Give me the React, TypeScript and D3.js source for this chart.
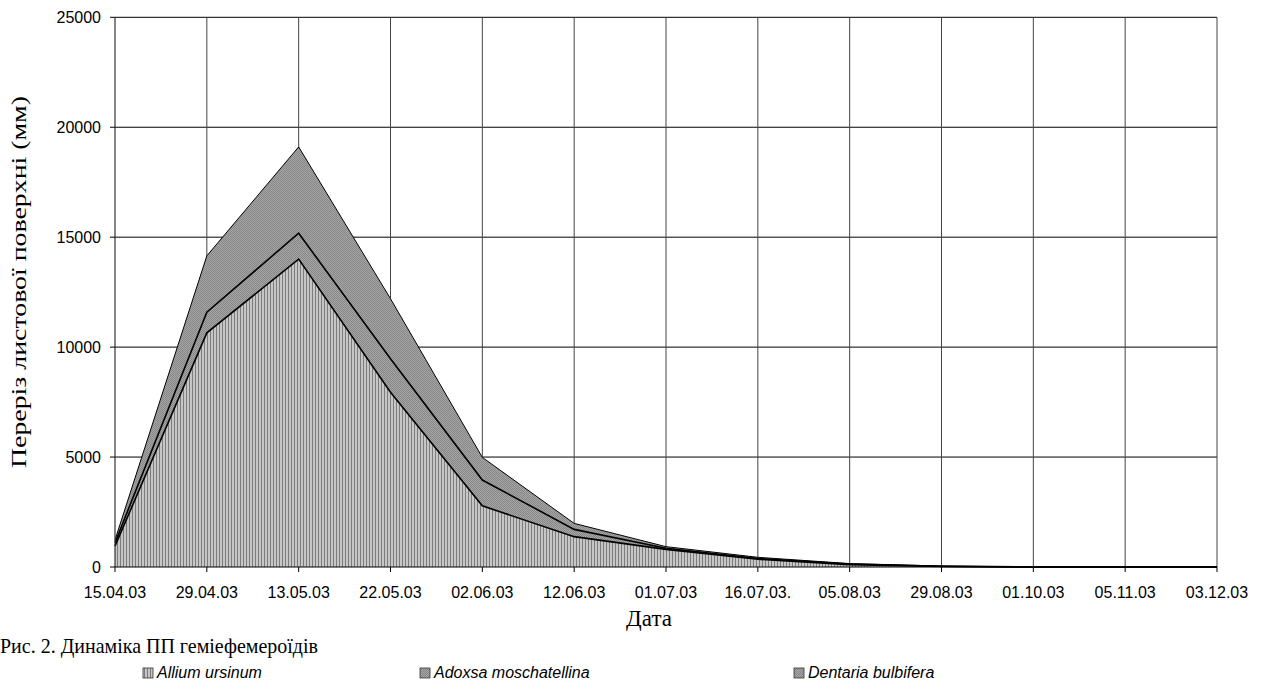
import React from "react";
import * as d3 from "d3";

const dates = ["15.04.03", "29.04.03", "13.05.03", "22.05.03", "02.06.03", "12.06.03", "01.07.03", "16.07.03.", "05.08.03", "29.08.03", "01.10.03", "05.11.03", "03.12.03"];
const allium = [950, 10650, 14000, 7950, 2780, 1380, 800, 350, 110, 25, 0, 0, 0];
const adoxa = [150, 940, 1180, 1520, 1175, 330, 50, 40, 25, 10, 0, 0, 0];
const dentaria = [130, 2560, 3925, 2730, 1030, 273, 75, 50, 20, 10, 0, 0, 0];
const seriesNames = ["Allium ursinum", "Adoxsa moschatellina", "Dentaria bulbifera"];
const yTicks = [0, 5000, 10000, 15000, 20000, 25000];

const W = 1262, H = 689;
const left = 115, right = 1217, top = 17.3, bottom = 567;

export default function App() {
  const x = d3.scalePoint<string>().domain(dates).range([left, right]);
  const y = d3.scaleLinear().domain([0, 25000]).range([bottom, top]);
  const rows = dates.map((d, i) => ({ date: d, a: allium[i], b: adoxa[i], c: dentaria[i] }));
  const stack = d3.stack<any>().keys(["a", "b", "c"]);
  const layers = stack(rows);
  const area = d3.area<any>().x((d) => x(d.data.date) as number).y0((d) => y(d[0])).y1((d) => y(d[1]));
  const line = d3.line<any>().x((d) => x(d.data.date) as number).y((d) => y(d[1]));
  const fills = ["url(#pAllium)", "url(#pAdoxa)", "url(#pDent)"];
  const legendX = [143, 420, 794];
  const serif = "'Liberation Serif', 'Times New Roman', serif";
  const sans = "'Liberation Sans', Arial, sans-serif";

  return (
    <div style={{ position: "absolute", left: 0, top: 0 }}>
      <svg width={W} height={H} style={{ display: "block", background: "#fff" }}>
        <defs>
          <pattern id="pAllium" width="3" height="3" patternUnits="userSpaceOnUse">
            <rect width="3" height="3" fill="#c6c6c6" />
            <rect x="0" width="1" height="3" fill="#7c7c7c" />
          </pattern>
          <pattern id="pAdoxa" width="2" height="2" patternUnits="userSpaceOnUse">
            <rect width="2" height="2" fill="#a8a8a8" />
            <rect x="0" y="0" width="1" height="1" fill="#858585" />
            <rect x="1" y="1" width="1" height="1" fill="#858585" />
          </pattern>
          <pattern id="pDent" width="2" height="2" patternUnits="userSpaceOnUse">
            <rect width="2" height="2" fill="#a4a4a4" />
            <rect x="0" y="0" width="1" height="1" fill="#888888" />
            <rect x="1" y="1" width="1" height="1" fill="#888888" />
          </pattern>
        </defs>
        {/* grid */}
        {yTicks.filter((t) => t > 0).map((t) => (
          <line key={"h" + t} x1={left} x2={right} y1={y(t)} y2={y(t)} stroke="#000" strokeWidth={1} />
        ))}
        {dates.slice(1).map((d) => (
          <line key={"v" + d} x1={x(d)} x2={x(d)} y1={top} y2={bottom} stroke="#444" strokeWidth={1} />
        ))}
        {/* areas */}
        {layers.map((l, i) => (
          <path key={"a" + i} d={area(l) as string} fill={fills[i]} stroke="none" />
        ))}
        {layers.map((l, i) => (
          <path key={"l" + i} d={line(l) as string} fill="none" stroke="#000" strokeWidth={i === 2 ? 1 : 1.6} />
        ))}
        {/* axes */}
        <line x1={left} x2={left} y1={top} y2={bottom} stroke="#333" strokeWidth={1.2} />
        <line x1={left} x2={right} y1={bottom} y2={bottom} stroke="#000" strokeWidth={1.2} />
        {yTicks.map((t) => (
          <g key={"yt" + t}>
            <line x1={left - 5} x2={left} y1={y(t)} y2={y(t)} stroke="#000" />
            <text x={left - 14} y={y(t) + 6} textAnchor="end" fontFamily={sans} fontSize={16}>{t}</text>
          </g>
        ))}
        {dates.map((d) => (
          <g key={"xt" + d}>
            <line x1={x(d)} x2={x(d)} y1={bottom} y2={bottom + 5} stroke="#000" />
            <text x={x(d)} y={bottom + 31} textAnchor="middle" fontFamily={sans} fontSize={16}>{d}</text>
          </g>
        ))}
        <text transform={`translate(26,282) rotate(-90)`} textAnchor="middle" fontFamily={serif} fontSize={21} textLength={372} lengthAdjust="spacingAndGlyphs">Переріз листової поверхні (мм)</text>
        <text x={649} y={626} textAnchor="middle" fontFamily={serif} fontSize={23}>Дата</text>
        <text x={0} y={653} fontFamily={serif} fontSize={22} textLength={318} lengthAdjust="spacingAndGlyphs">Рис. 2. Динаміка ПП геміефемероїдів</text>
        {seriesNames.map((n, i) => (
          <g key={"lg" + i}>
            <rect x={legendX[i]} y={668} width={10} height={10} fill={fills[i]} stroke="#333" strokeWidth={0.8} />
            <text x={legendX[i] + 14} y={678} fontFamily={sans} fontStyle="italic" fontSize={16}>{n}</text>
          </g>
        ))}
      </svg>
    </div>
  );
}
